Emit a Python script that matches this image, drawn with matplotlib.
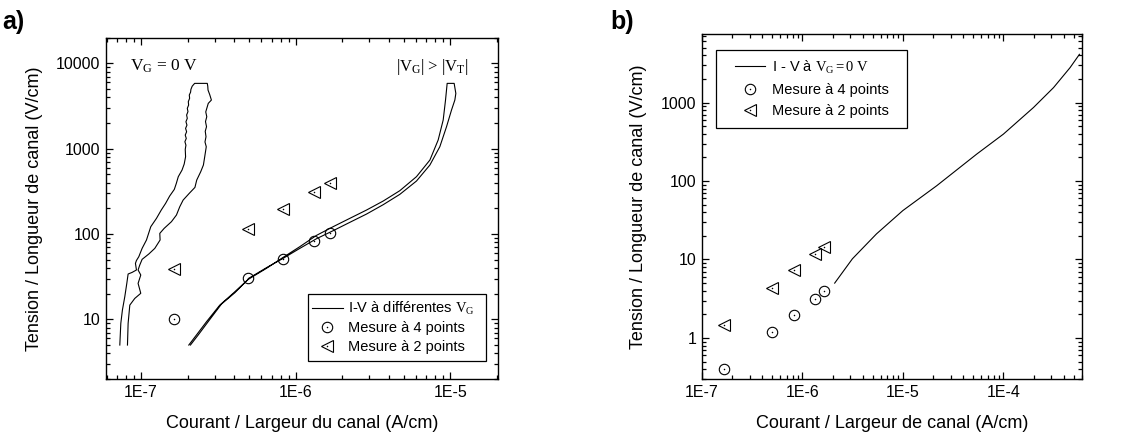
import matplotlib
matplotlib.use("Agg")
import matplotlib.pyplot as plt
from matplotlib.patches import Rectangle
from matplotlib.ticker import LogLocator, FixedLocator, FixedFormatter, NullFormatter

plt.rcParams['font.family'] = ['Liberation Sans', 'DejaVu Sans']
plt.rcParams['mathtext.fontset'] = 'custom'
plt.rcParams['mathtext.rm'] = 'Liberation Serif'
plt.rcParams['mathtext.it'] = 'Liberation Serif:italic'

# ---------------- data : panel a ----------------
# I-V at V_G = 0 V : rising sweep
a_vg0_up_current = [7.28e-8, 7.39e-8, 7.57e-8, 7.84e-8, 8.08e-8, 8.24e-8, 8.74e-8, 9.33e-8,
                    9.19e-8, 9.33e-8, 9.66e-8, 1.015e-7, 1.083e-7, 1.155e-7, 1.257e-7, 1.35e-7,
                    1.44e-7, 1.53e-7, 1.64e-7, 1.69e-7, 1.74e-7, 1.84e-7, 1.90e-7, 1.94e-7,
                    1.93e-7, 1.95e-7, 1.92e-7, 1.96e-7, 1.93e-7, 1.97e-7, 1.94e-7, 1.98e-7,
                    1.95e-7, 1.99e-7, 1.97e-7, 2.01e-7, 1.99e-7, 2.03e-7, 2.02e-7, 2.06e-7,
                    2.05e-7, 2.09e-7, 2.10e-7, 2.14e-7, 2.22e-7]
a_vg0_up_field = [5.0, 8.98, 12.9, 18.4, 26.4, 34.0, 35.5, 37.9,
                  45.3, 49.0, 54.2, 67.9, 85.1, 121.9, 152.6, 191.0,
                  228.6, 278.7, 333.6, 392.5, 470, 562, 661, 805,
                  982, 1100, 1208, 1320, 1445, 1580, 1730, 1890,
                  2070, 2270, 2482, 2720, 2972, 3250, 3556, 3900,
                  4256, 4600, 4955, 5400, 5830]
# I-V at V_G = 0 V : return sweep (top to bottom)
a_vg0_down_current = [2.68e-7, 2.70e-7, 2.71e-7, 2.78e-7, 2.85e-7, 2.72e-7, 2.68e-7, 2.62e-7,
                      2.66e-7, 2.61e-7, 2.65e-7, 2.60e-7, 2.63e-7, 2.59e-7, 2.64e-7, 2.58e-7,
                      2.53e-7, 2.43e-7, 2.29e-7, 2.23e-7, 2.05e-7, 1.87e-7, 1.779e-7, 1.693e-7,
                      1.571e-7, 1.409e-7, 1.321e-7, 1.327e-7, 1.226e-7, 1.121e-7, 1.015e-7, 9.80e-8,
                      9.56e-8, 9.95e-8, 9.56e-8, 9.95e-8, 9.10e-8, 8.45e-8, 8.24e-8, 8.16e-8]
a_vg0_down_field = [5830, 5400, 4870, 4300, 3718, 3400, 3105, 2700,
                    2371, 2080, 1811, 1600, 1382, 1200, 1055, 805,
                    644, 537, 429, 352, 300, 250, 209, 167,
                    139.5, 116.4, 101.8, 85.1, 67.9, 58.3, 50.5, 43.3,
                    37.9, 33.1, 26.4, 20.2, 17.6, 14.7, 8.98, 5.0]

# I-V at |V_G| > |V_T|
a_vgt_current = [2.035e-7, 2.28e-7, 2.65e-7, 3.23e-7, 3.94e-7, 4.93e-7, 6.47e-7, 8.3e-7,
                 1.064e-6, 1.364e-6, 1.748e-6, 2.24e-6, 2.874e-6, 3.685e-6, 4.72e-6, 6.05e-6,
                 7.39e-6, 8.36e-6, 9.01e-6, 9.33e-6, 9.56e-6,
                 1.061e-5, 1.088e-5, 1.072e-5, 1.02e-5, 9.47e-6, 8.57e-6, 7.39e-6, 6.05e-6,
                 4.72e-6, 3.685e-6, 2.874e-6, 2.24e-6, 1.748e-6, 1.364e-6, 1.064e-6, 8.3e-7,
                 6.47e-7, 5.05e-7, 4.04e-7, 3.31e-7, 2.715e-7, 2.34e-7, 2.085e-7]
a_vgt_field = [5.0, 6.55, 9.39, 14.7, 20.2, 29.4, 39.6, 53.3,
               71.1, 96.4, 121.9, 152.6, 191, 243.6, 322, 470,
               736, 1264, 2168, 3718, 5830,
               5830, 4446, 3718, 2838, 1810, 1055, 643.6, 417.8,
               291.6, 220.7, 171.4, 137, 109.4, 88.1, 67.9, 51.9,
               40.3, 30.8, 20.5, 15.1, 9.39, 6.55, 5.0]

a_meas_current = [1.63e-7, 4.92e-7, 8.3e-7, 1.32e-6, 1.66e-6]
a_4pt_field = [10.0, 30.8, 50.9, 82.0, 102.0]
a_2pt_field = [38.5, 116.0, 195.0, 308.0, 392.0]

# ---------------- data : panel b ----------------
b_iv_current = [2.10e-6, 3.15e-6, 5.47e-6, 1.0e-5, 2.17e-5, 5.42e-5, 1.0e-4,
                1.99e-4, 3.15e-4, 4.6e-4, 5.7e-4]
b_iv_field = [5.0, 10.2, 21.2, 42.0, 87.0, 220.0, 396.0, 864.0, 1550.0, 2786.0, 4114.0]

b_meas_current = [1.65e-7, 4.95e-7, 8.3e-7, 1.33e-6, 1.66e-6]
b_4pt_field = [0.40, 1.19, 1.98, 3.16, 4.0]
b_2pt_field = [1.45, 4.37, 7.24, 11.6, 14.6]

a_xticks = [1e-7, 1e-6, 1e-5]
a_xticklabels = ['1E-7', '1E-6', '1E-5']
a_yticks = [10, 100, 1000, 10000]
a_yticklabels = ['10', '100', '1000', '10000']
b_xticks = [1e-7, 1e-6, 1e-5, 1e-4]
b_xticklabels = ['1E-7', '1E-6', '1E-5', '1E-4']
b_yticks = [1, 10, 100, 1000]
b_yticklabels = ['1', '10', '100', '1000']

W, H = 1132, 437
fig = plt.figure(figsize=(W / 100, H / 100), dpi=100)

def px_axes(l, r, t, b):
    return fig.add_axes([l / W, 1 - b / H, (r - l) / W, (b - t) / H])

axa = px_axes(105.7, 497.7, 37.7, 379)
axb = px_axes(701.7, 1081.7, 34.3, 379)

def style(ax, xticks, xlabels, yticks, ylabels):
    ax.set_xscale('log')
    ax.set_yscale('log')
    ax.xaxis.set_major_locator(FixedLocator(xticks))
    ax.xaxis.set_major_formatter(FixedFormatter(xlabels))
    ax.yaxis.set_major_locator(FixedLocator(yticks))
    ax.yaxis.set_major_formatter(FixedFormatter(ylabels))
    for axis in (ax.xaxis, ax.yaxis):
        axis.set_minor_locator(LogLocator(base=10, subs=range(2, 10), numticks=20))
        axis.set_minor_formatter(NullFormatter())
    ax.tick_params(which='both', direction='in', top=True, right=True, width=0.9,
                   labelsize=11.5, colors='black')
    ax.tick_params(which='major', length=5, pad=4)
    ax.tick_params(which='minor', length=2.6)
    for s in ax.spines.values():
        s.set_linewidth(1.0)

mk = dict(linestyle='none', markerfacecolor='none', markeredgecolor='black',
          markeredgewidth=0.8)
dot = dict(linestyle='none', marker='o', markersize=1.1, markeredgewidth=0, color='black')

def frame(ax, x0, y0, w, h):
    ax.add_patch(Rectangle((x0, y0), w, h, transform=ax.transAxes, fill=True,
                           facecolor='white', edgecolor='black', lw=0.9, zorder=4))

# ---- panel a ----
style(axa, a_xticks, a_xticklabels, a_yticks, a_yticklabels)
axa.set_xlim(5.9e-8, 2.03e-5)
axa.set_ylim(2, 20000)
axa.plot(a_vg0_up_current + a_vg0_down_current, a_vg0_up_field + a_vg0_down_field,
         color='black', lw=0.8)
la, = axa.plot(a_vgt_current, a_vgt_field, color='black', lw=0.8)
c1, = axa.plot(a_meas_current, a_4pt_field, marker='o', markersize=7.5, **mk)
d1, = axa.plot(a_meas_current, a_4pt_field, **dot)
t1, = axa.plot(a_meas_current, a_2pt_field, marker='<', markersize=8, **mk)
d2, = axa.plot(a_meas_current, a_2pt_field, **dot)
axa.set_xlabel('Courant / Largeur du canal (A/cm)', fontsize=13, labelpad=11)
axa.set_ylabel('Tension / Longueur de canal (V/cm)', fontsize=13, labelpad=9)
axa.text(0.063, 0.915, r'$\mathrm{V_G}$ = 0 V', transform=axa.transAxes,
         family='Liberation Serif', fontsize=12.5, va='center', ha='left')
axa.text(0.925, 0.915, r'|$\mathrm{V_G}$| > |$\mathrm{V_T}$|', transform=axa.transAxes,
         family='Liberation Serif', fontsize=12, va='center', ha='right')
frame(axa, 0.516, 0.0527, 0.454, 0.196)
lega = axa.legend([la, (c1, d1), (t1, d2)],
                  [r'I-V à différentes $\mathrm{V_G}$', 'Mesure à 4 points', 'Mesure à 2 points'],
                  loc='upper left', bbox_to_anchor=(0.5255, 0.232), fontsize=10.5,
                  frameon=False, borderpad=0, borderaxespad=0,
                  handlelength=2.14, labelspacing=0.3, handletextpad=0.36)
lega.set_zorder(5)
fig.text(2 / W, 1 - 22 / H, 'a)', fontsize=18, fontweight='bold', va='center', ha='left')

# ---- panel b ----
style(axb, b_xticks, b_xticklabels, b_yticks, b_yticklabels)
axb.set_xlim(1e-7, 6e-4)
axb.set_ylim(0.3, 7400)
lb, = axb.plot(b_iv_current, b_iv_field, color='black', lw=0.8)
c2, = axb.plot(b_meas_current, b_4pt_field, marker='o', markersize=7.5, **mk)
d3, = axb.plot(b_meas_current, b_4pt_field, **dot)
t2, = axb.plot(b_meas_current, b_2pt_field, marker='<', markersize=8, **mk)
d4, = axb.plot(b_meas_current, b_2pt_field, **dot)
axb.set_xlabel('Courant / Largeur de canal (A/cm)', fontsize=13, labelpad=11)
axb.set_ylabel('Tension / Longueur de canal (V/cm)', fontsize=13, labelpad=10)
frame(axb, 0.0368, 0.7273, 0.5026, 0.2272)
legb = axb.legend([lb, (c2, d3), (t2, d4)],
                  [r'I - V à $\mathrm{V_G = 0\ V}$', 'Mesure à 4 points', 'Mesure à 2 points'],
                  loc='upper left', bbox_to_anchor=(0.0876, 0.93), fontsize=10.5,
                  frameon=False, borderpad=0, borderaxespad=0,
                  handlelength=2.05, labelspacing=0.5, handletextpad=0.46)
legb.set_zorder(5)
fig.text(610 / W, 1 - 22 / H, 'b)', fontsize=18, fontweight='bold', va='center', ha='left')

fig.savefig('out.png', dpi=100)
